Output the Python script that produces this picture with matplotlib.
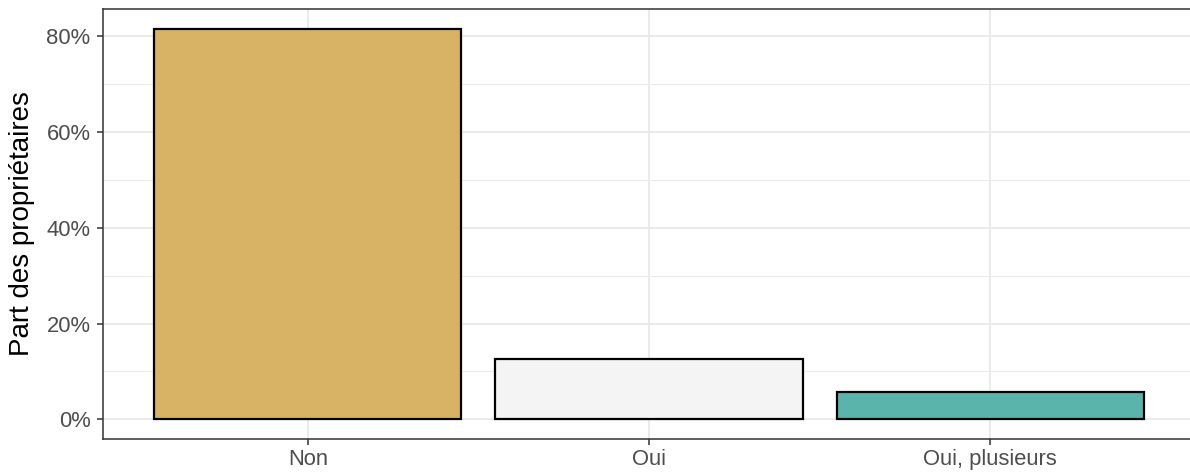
import matplotlib
matplotlib.use("Agg")
import matplotlib.pyplot as plt
from matplotlib.ticker import MultipleLocator, FuncFormatter

categories = ["Non", "Oui", "Oui, plusieurs"]
shares = [81.5, 12.7, 5.7]
colors = ["#D8B365", "#F4F4F4", "#5AB4AC"]

plt.rcParams['font.family'] = ['Liberation Sans', 'DejaVu Sans']

W, H = 1190, 472
fig = plt.figure(figsize=(W/100, H/100), dpi=100)
left, right, top, bottom = 103, 1195, 9, 439
ax = fig.add_axes([left/W, 1 - bottom/H, (right-left)/W, (bottom-top)/H])

x = list(range(1, len(categories)+1))
ax.bar(x, shares, width=0.9, color=colors, edgecolor="black", linewidth=1.6, zorder=3)

ymax = max(shares)
ax.set_xlim(0.4, len(categories)+0.6)
ax.set_ylim(-0.05*ymax, 1.05*ymax)
ax.yaxis.set_major_locator(MultipleLocator(20))
ax.yaxis.set_minor_locator(MultipleLocator(10))
ax.yaxis.set_major_formatter(FuncFormatter(lambda v, p: f"{int(round(v))}%"))
ax.set_xticks(x)
ax.set_xticklabels(categories)

ax.grid(True, which="major", color="#EBEBEB", linewidth=1.4, zorder=0)
ax.grid(True, which="minor", axis="y", color="#EBEBEB", linewidth=0.7, zorder=0)
ax.set_axisbelow(True)
ax.tick_params(axis="both", which="major", length=4.5, width=1.1, color="#333333",
               labelcolor="#4D4D4D", labelsize=15.8)
ax.tick_params(axis="y", which="major", pad=4.5)
ax.tick_params(axis="x", which="major", pad=3)
ax.tick_params(axis="y", which="minor", length=0)
for s in ax.spines.values():
    s.set_color("#333333")
    s.set_linewidth(1.1)

ax.set_ylabel("Part des propriétaires", fontsize=20, color="black", labelpad=8)

fig.savefig("out.png", dpi=100)
